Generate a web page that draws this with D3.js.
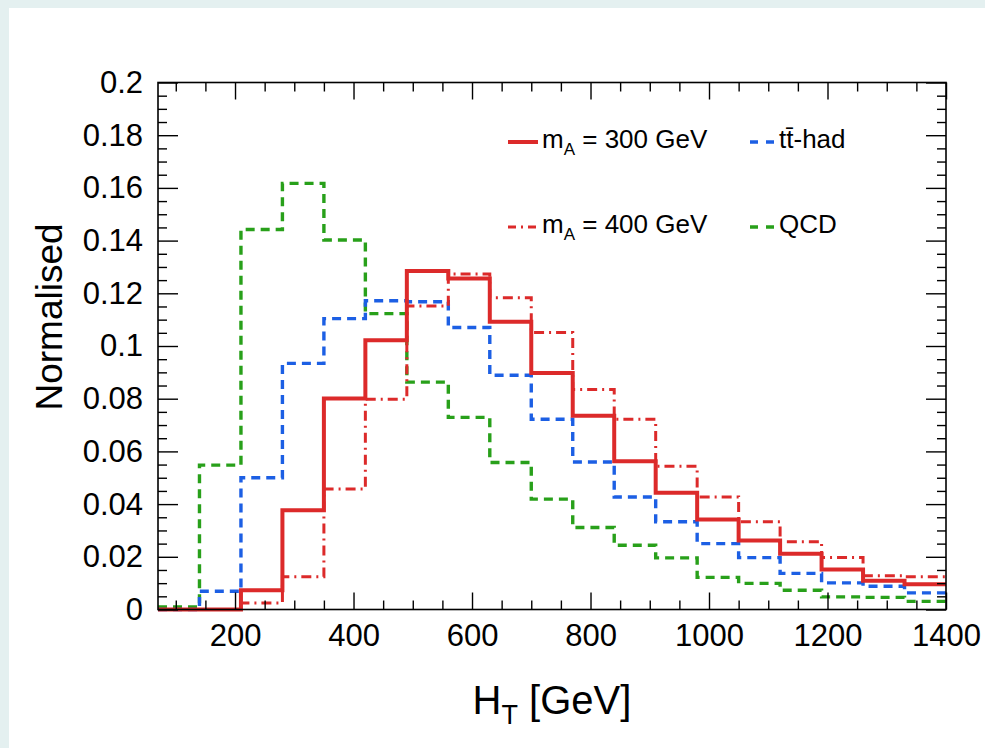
<!DOCTYPE html>
<html>
<head>
<meta charset="utf-8">
<script src="https://cdn.jsdelivr.net/npm/d3@7"></script>
<style>
  body { margin: 0; background: #e4f0f0; }
  svg { display: block; }
  text { font-family: "Liberation Sans", Arial, Helvetica, sans-serif; fill: #000; }
</style>
</head>
<body>
<svg id="ht-chart" width="985" height="748"></svg>
<script>
// ---- data ----
const binEdges = [70, 140, 210, 280, 350, 420, 490, 560, 630, 700, 770, 840, 910, 980, 1050, 1120, 1190, 1260, 1330, 1400];

const mA300 = [0, 0, 0.0073, 0.0377, 0.0801, 0.1022, 0.1285, 0.1256, 0.1092, 0.0898, 0.0735, 0.0563, 0.0443, 0.0342, 0.0262, 0.0212, 0.0152, 0.0109, 0.0096];
const mA400 = [0, 0, 0.0025, 0.0124, 0.0457, 0.0798, 0.1152, 0.1273, 0.1183, 0.1051, 0.0835, 0.0722, 0.0544, 0.0427, 0.0333, 0.0257, 0.0197, 0.0128, 0.0124];
const ttHad = [0, 0.0069, 0.0500, 0.0934, 0.1104, 0.1172, 0.1168, 0.1070, 0.0889, 0.0722, 0.0560, 0.0427, 0.0333, 0.0250, 0.0197, 0.0137, 0.0101, 0.0088, 0.0063];
const qcd   = [0.0010, 0.0548, 0.1442, 0.1617, 0.1402, 0.1123, 0.0863, 0.0729, 0.0558, 0.0419, 0.0311, 0.0244, 0.0196, 0.0122, 0.0099, 0.0073, 0.0048, 0.0046, 0.0031];

const xTicks = [200, 400, 600, 800, 1000, 1200, 1400];
const xMinorTicks = [100, 150, 250, 300, 350, 450, 500, 550, 650, 700, 750, 850, 900, 950, 1050, 1100, 1150, 1250, 1300, 1350];
const yTicks = [0, 0.02, 0.04, 0.06, 0.08, 0.1, 0.12, 0.14, 0.16, 0.18, 0.2];
const yTickLabels = ["0", "0.02", "0.04", "0.06", "0.08", "0.1", "0.12", "0.14", "0.16", "0.18", "0.2"];
const yMinorTicks = [0.005, 0.01, 0.015, 0.025, 0.03, 0.035, 0.045, 0.05, 0.055, 0.065, 0.07, 0.075, 0.085, 0.09, 0.095,
                     0.105, 0.11, 0.115, 0.125, 0.13, 0.135, 0.145, 0.15, 0.155, 0.165, 0.17, 0.175, 0.185, 0.19, 0.195];

// draw order: backgrounds first, signals on top
const series = [
    { name: "QCD",   values: qcd,   color: "#28a01a", width: 3.4, dash: "9,6" },
    { name: "tt",    values: ttHad, color: "#1c5fe4", width: 3.4, dash: "9,6" },
    { name: "mA400", values: mA400, color: "#dc2a2a", width: 3,   dash: "10,5,2,5" },
    { name: "mA300", values: mA300, color: "#dc2a2a", width: 4,   dash: null }
];

const svg = d3.select("#ht-chart"),
    width = +svg.attr("width"),
    height = +svg.attr("height"),
    margin = { top: 82.5, right: 39, bottom: 138.5, left: 158 },
    plotW = width - margin.left - margin.right,
    plotH = height - margin.top - margin.bottom;

// white panel
svg.append("rect")
    .attr("x", 9).attr("y", 8)
    .attr("width", width - 9).attr("height", height - 8)
    .attr("fill", "#ffffff");

const x = d3.scaleLinear().domain([70, 1400]).range([margin.left, margin.left + plotW]);
const y = d3.scaleLinear().domain([0, 0.2]).range([margin.top + plotH, margin.top]);

// histograms as step outlines
const step = d3.line()
    .x(d => x(d[0]))
    .y(d => y(d[1]))
    .curve(d3.curveStepAfter);

series.forEach(s => {
    const pts = binEdges.map((e, i) => [e, s.values[Math.min(i, s.values.length - 1)]]);
    svg.append("path")
        .datum(pts)
        .attr("d", step)
        .attr("fill", "none")
        .attr("stroke", s.color)
        .attr("stroke-width", s.width)
        .attr("stroke-dasharray", s.dash);
});

// axes: ticks point into the frame on all four sides
function styleAxis(g) {
    g.select(".domain").remove();
    g.selectAll(".tick line").attr("stroke", "#000").attr("stroke-width", 1.4);
}

svg.append("g")
    .attr("transform", `translate(0,${margin.top + plotH})`)
    .call(d3.axisBottom(x).tickValues(xTicks).tickSize(-17).tickPadding(14).tickFormat(d3.format("d")))
    .call(styleAxis)
    .call(g => g.selectAll("text").style("font-size", "31px").attr("dy", "0.71em"));

svg.append("g")
    .attr("transform", `translate(0,${margin.top + plotH})`)
    .call(d3.axisBottom(x).tickValues(xMinorTicks).tickSize(-9).tickFormat(""))
    .call(styleAxis);

svg.append("g")
    .attr("transform", `translate(0,${margin.top})`)
    .call(d3.axisTop(x).tickValues(xTicks).tickSize(-17).tickFormat(""))
    .call(styleAxis);

svg.append("g")
    .attr("transform", `translate(0,${margin.top})`)
    .call(d3.axisTop(x).tickValues(xMinorTicks).tickSize(-9).tickFormat(""))
    .call(styleAxis);

svg.append("g")
    .attr("transform", `translate(${margin.left},0)`)
    .call(d3.axisLeft(y).tickValues(yTicks).tickSize(-20).tickPadding(15)
        .tickFormat((d, i) => yTickLabels[i]))
    .call(styleAxis)
    .call(g => g.selectAll("text").style("font-size", "31px"));

svg.append("g")
    .attr("transform", `translate(${margin.left},0)`)
    .call(d3.axisLeft(y).tickValues(yMinorTicks).tickSize(-9).tickFormat(""))
    .call(styleAxis);

svg.append("g")
    .attr("transform", `translate(${margin.left + plotW},0)`)
    .call(d3.axisRight(y).tickValues(yTicks).tickSize(-20).tickFormat(""))
    .call(styleAxis);

svg.append("g")
    .attr("transform", `translate(${margin.left + plotW},0)`)
    .call(d3.axisRight(y).tickValues(yMinorTicks).tickSize(-9).tickFormat(""))
    .call(styleAxis);

// frame
svg.append("rect")
    .attr("x", margin.left).attr("y", margin.top)
    .attr("width", plotW).attr("height", plotH)
    .attr("fill", "none")
    .attr("stroke", "#000")
    .attr("stroke-width", 1.6);

// axis titles
const xTitle = svg.append("text")
    .attr("x", margin.left + plotW / 2)
    .attr("y", 714)
    .attr("text-anchor", "middle")
    .style("font-size", "40px");
xTitle.append("tspan").text("H");
xTitle.append("tspan").attr("dy", 10).style("font-size", "27px").text("T");
xTitle.append("tspan").attr("dy", -10).text(" [GeV]");

svg.append("text")
    .attr("transform", "rotate(-90)")
    .attr("x", -317)
    .attr("y", 62)
    .attr("text-anchor", "middle")
    .style("font-size", "37px")
    .text("Normalised");

// legend
const legendItems = [
    { s: series[3], col: 0, row: 0, label: "300 GeV" },
    { s: series[1], col: 1, row: 0, label: "tt-had" },
    { s: series[2], col: 0, row: 1, label: "400 GeV" },
    { s: series[0], col: 1, row: 1, label: "QCD" }
];
const colX = [508, 750], colLen = [30, 25], rowY = [142, 227];

legendItems.forEach(it => {
    const lx = colX[it.col], ly = rowY[it.row];
    const g = svg.append("g");
    g.append("line")
        .attr("x1", lx).attr("x2", lx + colLen[it.col])
        .attr("y1", ly).attr("y2", ly)
        .attr("stroke", it.s.color)
        .attr("stroke-width", it.s.width)
        .attr("stroke-dasharray", it.col === 0 ? it.s.dash && "8,5,2,5" : "8,8");
    const t = g.append("text")
        .attr("x", lx + colLen[it.col] + 4)
        .attr("y", ly + 6)
        .style("font-size", "26px");
    if (it.col === 0) {
        t.append("tspan").text("m");
        t.append("tspan").attr("dy", 7).style("font-size", "17px").text("A");
        t.append("tspan").attr("dy", -7).text(" = " + it.label);
    } else if (it.label === "tt-had") {
        t.append("tspan").text("t");
        t.append("tspan").text("t\u0304");
        t.append("tspan").text("-had");
    } else {
        t.text(it.label);
    }
});
</script>
</body>
</html>
